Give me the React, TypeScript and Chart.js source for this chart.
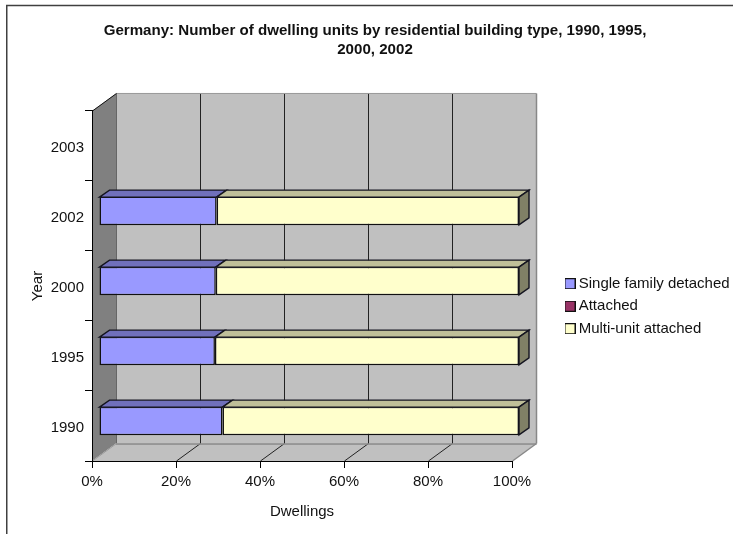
import React, { useEffect, useRef } from "react";
import { Chart, registerables } from "chart.js";

Chart.register(...registerables);

const years = ["1990", "1995", "2000", "2002", "2003"];
const singleFamily = [29.4, 27.6, 27.8, 28.0, null];
const attached = [0, 0, 0, 0, null];
const multiUnit = [70.6, 72.4, 72.2, 72.0, null];
const seriesNames = ["Single family detached", "Attached", "Multi-unit attached"];
const titleLines = ["Germany: Number of dwelling units by residential building type, 1990, 1995,", "2000, 2002"];

const FONT = "'Liberation Sans', Arial, sans-serif";
const WALL_DX = 24;
const WALL_DY = -17.5;
const BAR_DX = 7;
const BAR_DY = -5;
const BAR_DEPTH_X = 10;
const BAR_DEPTH_Y = -7;
const FRONT = ["#9999FF", "#993366", "#FFFFCC"];
const TOP = ["#7070BB", "#70264B", "#BFBF99"];
const SIDE = ["#555588", "#551D39", "#808066"];

function swatch(color: string) {
  const c = document.createElement("canvas");
  c.width = 11;
  c.height = 11;
  const g = c.getContext("2d")!;
  g.fillStyle = color;
  g.fillRect(0, 0, 11, 11);
  g.strokeStyle = "#111";
  g.lineWidth = 1;
  g.strokeRect(0.5, 0.5, 10, 10);
  return c;
}

function poly(ctx: CanvasRenderingContext2D, pts: number[][], fill: string | null, stroke: string | null, lw = 1) {
  ctx.beginPath();
  pts.forEach((p, i) => (i ? ctx.lineTo(p[0], p[1]) : ctx.moveTo(p[0], p[1])));
  ctx.closePath();
  if (fill) {
    ctx.fillStyle = fill;
    ctx.fill();
  }
  if (stroke) {
    ctx.strokeStyle = stroke;
    ctx.lineWidth = lw;
    ctx.stroke();
  }
}

function seg(ctx: CanvasRenderingContext2D, x1: number, y1: number, x2: number, y2: number, color: string, lw = 1) {
  ctx.beginPath();
  ctx.moveTo(x1, y1);
  ctx.lineTo(x2, y2);
  ctx.strokeStyle = color;
  ctx.lineWidth = lw;
  ctx.stroke();
}

const scene = {
  id: "scene",
  afterLayout(chart: any) {
    const t = chart.titleBlock;
    if (t) {
      t.left = 17;
      t.right = 733;
      t.top = 21.5;
      t.bottom = t.top + t.height;
    }
    const l = chart.legend;
    if (l) {
      l.left = 561.3;
      l.right = 733;
      l.top = 268.7;
      l.bottom = 400;
    }
  },
  beforeDraw(chart: any) {
    const { ctx, chartArea: a, scales } = chart;
    const { left: L, right: R, top: T, bottom: B } = a;
    ctx.save();
    // page frame
    ctx.strokeStyle = "#404040";
    ctx.lineWidth = 1.5;
    ctx.beginPath();
    ctx.moveTo(6.75, 534);
    ctx.lineTo(6.75, 5.5);
    ctx.lineTo(733, 5.5);
    ctx.stroke();
    // back wall
    poly(ctx, [[L + WALL_DX, T + WALL_DY], [R + WALL_DX, T + WALL_DY], [R + WALL_DX, B + WALL_DY], [L + WALL_DX, B + WALL_DY]], "#C0C0C0", null);
    // side wall
    poly(ctx, [[L, T], [L + WALL_DX, T + WALL_DY], [L + WALL_DX, B + WALL_DY], [L, B]], "#808080", null);
    // floor
    poly(ctx, [[L, B], [R, B], [R + WALL_DX, B + WALL_DY], [L + WALL_DX, B + WALL_DY]], "#C0C0C0", null);
    // gridlines on wall and floor
    scales.x.ticks.forEach((_: any, i: number) => {
      const x = Math.round(scales.x.getPixelForTick(i));
      if (i > 0 && i < scales.x.ticks.length - 1) {
        seg(ctx, x + WALL_DX + 0.5, T + WALL_DY, x + WALL_DX + 0.5, B + WALL_DY, "#222");
      }
      if (i > 0 && i < scales.x.ticks.length - 1) seg(ctx, x + 0.5, B, x + WALL_DX + 0.5, B + WALL_DY, "#222");
    });
    // wall edges
    seg(ctx, L + WALL_DX + 0.5, T + WALL_DY, R + WALL_DX + 0.5, T + WALL_DY, "#999");
    seg(ctx, L + WALL_DX + 0.5, T + WALL_DY, L + WALL_DX + 0.5, B + WALL_DY, "#666");
    seg(ctx, L + WALL_DX, B + WALL_DY + 0.5, R + WALL_DX + 0.5, B + WALL_DY + 0.5, "#888", 1.5);
    seg(ctx, R + WALL_DX + 0.5, T + WALL_DY, R + WALL_DX + 0.5, B + WALL_DY, "#888", 1.5);
    seg(ctx, R + 0.5, B, R + WALL_DX + 0.5, B + WALL_DY, "#888", 1.5);
    seg(ctx, L + 0.5, B, L + WALL_DX + 0.5, B + WALL_DY, "#999");
    seg(ctx, L + 0.5, T, L + WALL_DX + 0.5, T + WALL_DY, "#111");
    ctx.restore();
  },
  beforeDatasetsDraw(chart: any) {
    chart.ctx.save();
    chart.ctx.translate(BAR_DX, BAR_DY);
  },
  afterDatasetsDraw(chart: any) {
    const { ctx } = chart;
    ctx.lineJoin = "miter";
    chart.data.datasets.forEach((_: any, d: number) => {
      chart.getDatasetMeta(d).data.forEach((el: any) => {
        const p = el.getProps(["x", "base", "y", "height"], true);
        if (!Number.isFinite(p.x) || Math.abs(p.x - p.base) < 0.5) return;
        const top = p.y - p.height / 2 + 0.5;
        const bot = p.y + p.height / 2 - 0.5;
        poly(ctx, [[p.base, top], [p.x, top], [p.x + BAR_DEPTH_X, top + BAR_DEPTH_Y], [p.base + BAR_DEPTH_X, top + BAR_DEPTH_Y]], TOP[d], "#151520", 1.4);
        if (d === chart.data.datasets.length - 1) {
          poly(ctx, [[p.x, top], [p.x + BAR_DEPTH_X, top + BAR_DEPTH_Y], [p.x + BAR_DEPTH_X, bot + BAR_DEPTH_Y], [p.x, bot]], SIDE[d], "#151520", 1.4);
        }
      });
    });
    ctx.restore();
  },
};

export default function App() {
  const ref = useRef<HTMLCanvasElement>(null);
  useEffect(() => {
    const values = [singleFamily, attached, multiUnit];
    const chart = new Chart(ref.current!, {
      type: "bar",
      data: {
        labels: years,
        datasets: seriesNames.map((label, i) => ({
          label,
          data: values[i],
          backgroundColor: FRONT[i],
          borderColor: "#111",
          borderWidth: 1.5,
          borderSkipped: false,
          barPercentage: 0.41,
          categoryPercentage: 1,
        })),
      } as any,
      options: {
        indexAxis: "y",
        responsive: false,
        animation: false,
        layout: { padding: { left: 29, right: 221, top: 72.6, bottom: 13 } },
        scales: {
          x: {
            stacked: true,
            min: 0,
            max: 100,
            afterFit: (s: any) => { s.height = 60; },
            ticks: { stepSize: 20, callback: (v: any) => `${v}%`, color: "#111", padding: 5, maxRotation: 0, font: { family: FONT, size: 15 } },
            grid: { drawOnChartArea: false, color: "#000", tickLength: 7 },
            border: { color: "#000" },
            title: { display: true, text: "Dwellings", color: "#111", padding: 0, font: { family: FONT, size: 15 } },
          },
          y: {
            stacked: true,
            reverse: true,
            afterFit: (s: any) => { s.width = 63; },
            ticks: { color: "#111", padding: 1, labelOffset: 2, font: { family: FONT, size: 15 } },
            grid: { drawOnChartArea: false, color: "#000", tickLength: 7 },
            border: { color: "#000" },
            title: { display: true, text: "Year", color: "#111", padding: 0, font: { family: FONT, size: 15 } },
          },
        },
        plugins: {
          tooltip: { enabled: false },
          title: {
            display: true,
            text: titleLines,
            color: "#111",
            padding: 0,
            font: { family: FONT, size: 15.1, weight: "bold", lineHeight: 1.27 },
          },
          legend: {
            position: "chartArea",
            align: "start",
            labels: {
              color: "#111",
              font: { family: FONT, size: 15 },
              padding: 7.5,
              usePointStyle: true,
              boxHeight: 10,
              pointStyleWidth: 2.4,
              generateLabels: (c: any) =>
                seriesNames.map((text, i) => ({
                  text,
                  datasetIndex: i,
                  pointStyle: swatch(FRONT[i]),
                  fontColor: "#111",
                  lineWidth: 0,
                })),
            },
          },
        },
      } as any,
      plugins: [scene],
    });
    return () => chart.destroy();
  }, []);
  return (
    <div style={{ position: "absolute", left: 0, top: 0, width: 733, height: 534 }}>
      <canvas ref={ref} width={733} height={534} style={{ display: "block" }} />
    </div>
  );
}
